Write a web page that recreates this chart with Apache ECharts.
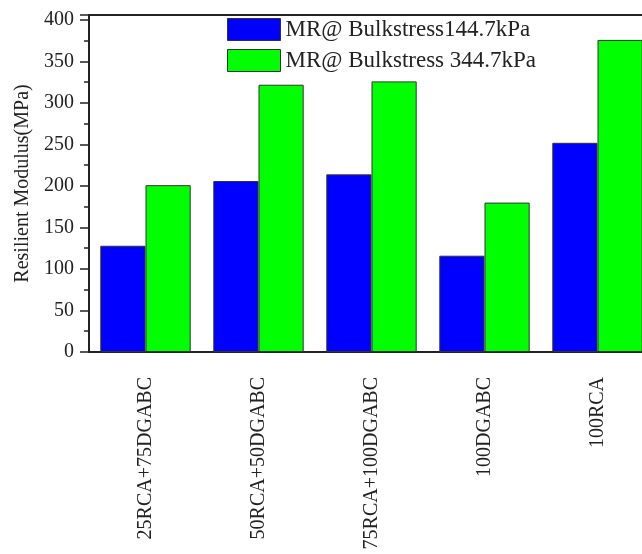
<!DOCTYPE html>
<html>
<head>
<meta charset="utf-8">
<script src="https://cdn.jsdelivr.net/npm/echarts@6/dist/echarts.min.js"></script>
<style>
  html, body { margin: 0; padding: 0; background: #ffffff; }
  #chart { width: 642px; height: 554px; }
</style>
</head>
<body>
<div id="chart"></div>
<script>
// Mix designations along the x axis
const categories = ['25RCA+75DGABC', '50RCA+50DGABC', '75RCA+100DGABC', '100DGABC', '100RCA'];

// Resilient modulus (MPa) at the two bulk stress levels
const seriesNames = ['MR@ Bulkstress144.7kPa', 'MR@ Bulkstress 344.7kPa'];
const mrLow = [128, 206, 214, 116, 252];
const mrHigh = [201, 322, 326, 180, 376];

// Value axis settings
const yMin = 0;
const yMax = 406;
const yStep = 50;

const FONT = '"Liberation Serif", "DejaVu Serif", serif';
const TEXT = '#222222';
const LINE = '#222222';

const chart = echarts.init(document.getElementById('chart'), null, { renderer: 'canvas' });

chart.setOption({
  backgroundColor: '#ffffff',
  animation: false,
  grid: {
    left: 89,
    top: 15,
    bottom: 202,
    right: -12,
    outerBoundsMode: 'none',
    containLabel: false,
    show: true,
    borderColor: LINE,
    borderWidth: 2,
    backgroundColor: 'transparent'
  },
  legend: {
    orient: 'vertical',
    left: 227,
    top: 18,
    padding: 0,
    icon: 'rect',
    itemWidth: 53,
    itemHeight: 22,
    itemGap: 8,
    itemStyle: { borderColor: '#333333', borderWidth: 1 },
    textStyle: { fontFamily: FONT, fontSize: 23, color: TEXT },
    data: seriesNames
  },
  xAxis: {
    type: 'category',
    data: categories,
    axisLine: { show: true, lineStyle: { color: LINE, width: 2 } },
    axisTick: { show: false },
    axisLabel: {
      rotate: 90,
      margin: 25,
      fontFamily: FONT,
      fontSize: 20,
      color: TEXT,
      interval: 0
    },
    splitLine: { show: false }
  },
  yAxis: {
    type: 'value',
    min: yMin,
    max: yMax,
    interval: yStep,
    name: 'Resilient Modulus(MPa)',
    nameLocation: 'middle',
    nameGap: 56,
    nameTextStyle: { fontFamily: FONT, fontSize: 20, color: TEXT },
    axisLine: { show: true, lineStyle: { color: LINE, width: 2 } },
    axisTick: { show: true, inside: false, length: 9, lineStyle: { color: LINE, width: 1.5 } },
    minorTick: { show: true, splitNumber: 2, length: 5, lineStyle: { color: LINE, width: 1.5 } },
    axisLabel: {
      margin: 15,
      fontFamily: FONT,
      fontSize: 20,
      color: TEXT,
      formatter: v => (v % yStep === 0 ? String(v) : '')
    },
    splitLine: { show: false }
  },
  series: [
    {
      name: seriesNames[0],
      type: 'bar',
      data: mrLow,
      barGap: '0%',
      barCategoryGap: '20%',
      itemStyle: { color: '#0000ff', borderColor: '#333333', borderWidth: 1 }
    },
    {
      name: seriesNames[1],
      type: 'bar',
      data: mrHigh,
      barGap: '0%',
      barCategoryGap: '20%',
      itemStyle: { color: '#00ff00', borderColor: '#333333', borderWidth: 1 }
    }
  ]
});
</script>
</body>
</html>
